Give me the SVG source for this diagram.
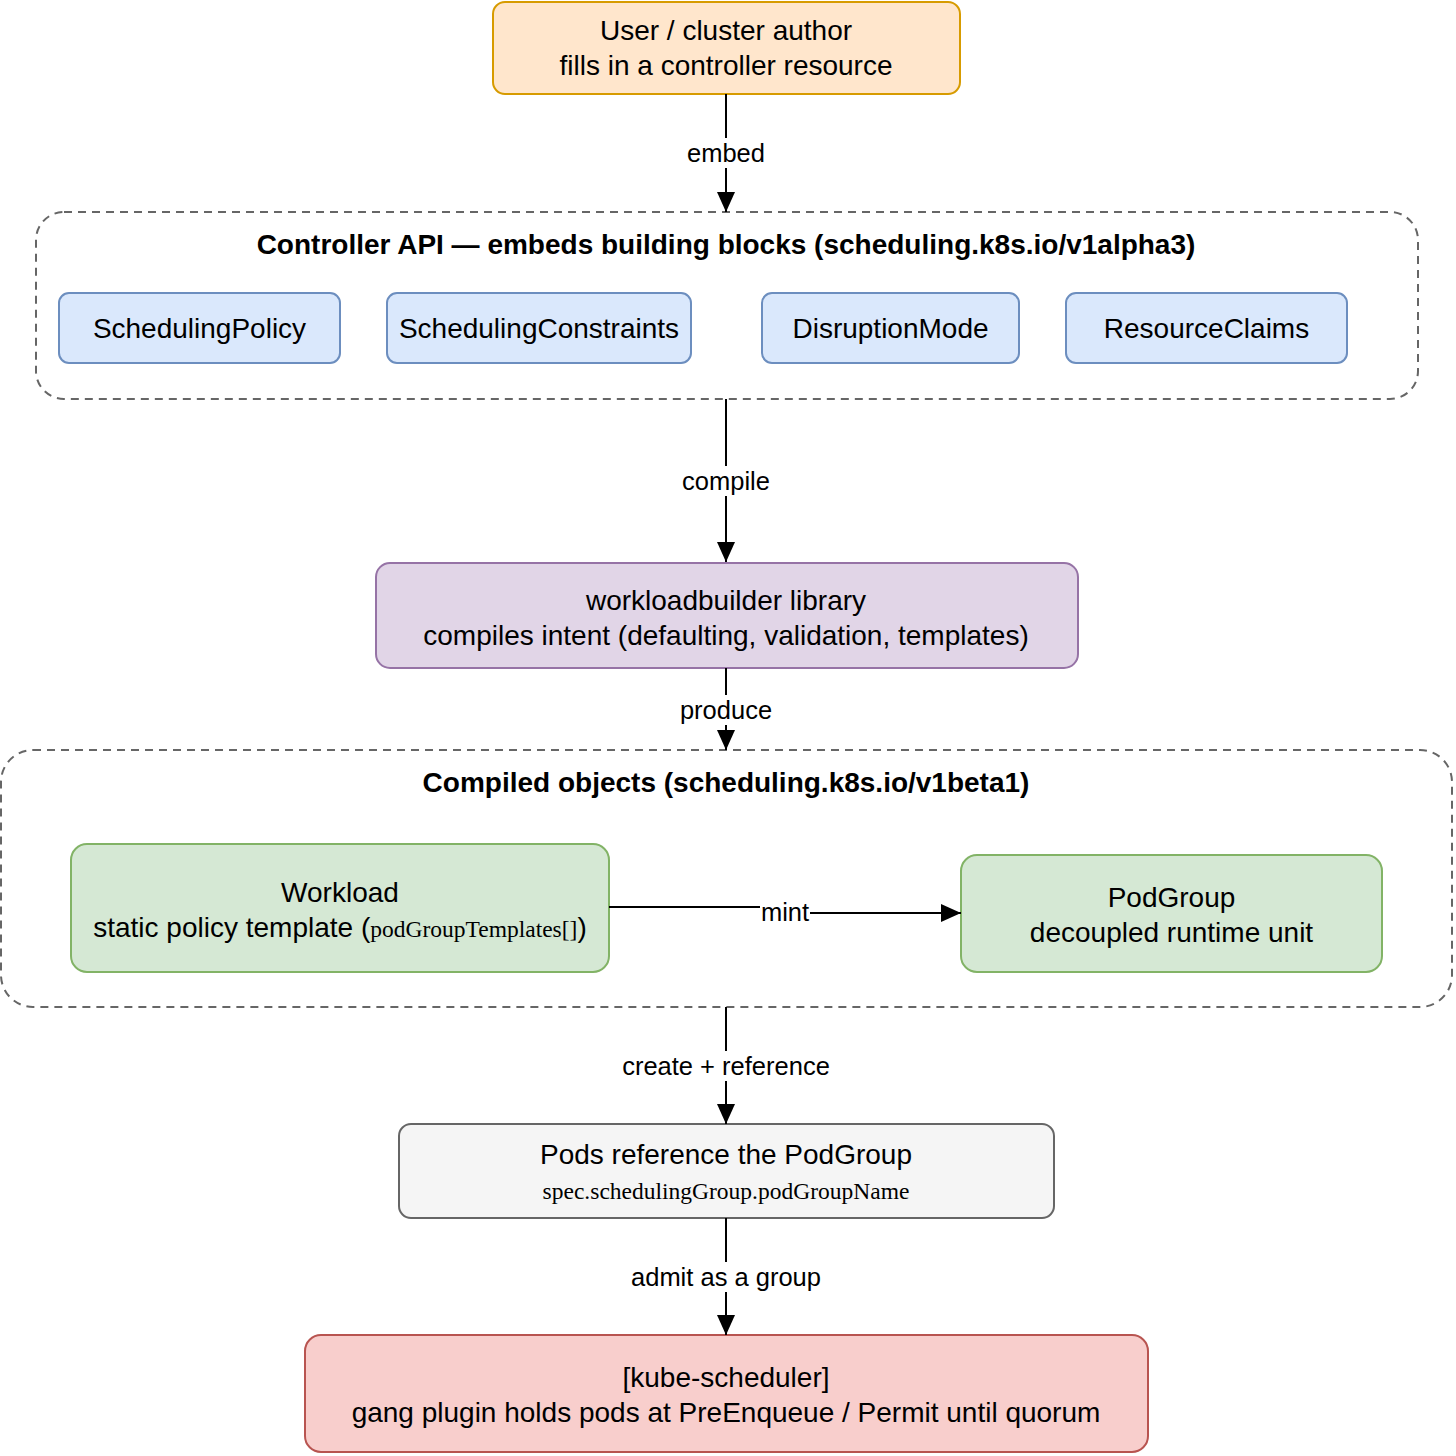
<svg xmlns="http://www.w3.org/2000/svg" width="1456" height="1456" viewBox="0 0 1456 1456">
<defs>
<marker id="arr" markerUnits="userSpaceOnUse" markerWidth="20" markerHeight="18" refX="20" refY="9" orient="auto">
<path d="M0,0 L20,9 L0,18 z" fill="#000"/>
</marker>
<style>
.t{font-family:"Liberation Sans",Arial,sans-serif;font-size:28px;fill:#000;text-anchor:middle}
.b{font-weight:bold}
.s{font-family:"Liberation Serif","Times New Roman",serif;font-size:23.5px}
.lbl{font-family:"Liberation Sans",Arial,sans-serif;font-size:25.5px;fill:#000;text-anchor:middle}
.e{fill:none;stroke:#000;stroke-width:2}
.bg{fill:#fff}
.grp{fill:#fff;stroke:#666;stroke-width:2;stroke-dasharray:8 6}
.blue{fill:#dae8fc;stroke:#6c8ebf;stroke-width:2}
.green{fill:#d5e8d4;stroke:#82b366;stroke-width:2}
</style>
</defs>
<rect width="1456" height="1456" fill="#fff"/>

<g id="user">
<rect x="493" y="2" width="467" height="92" rx="12" fill="#ffe6cc" stroke="#d79b00" stroke-width="2"/>
<text class="t" x="726" y="40">User / cluster author</text>
<text class="t" x="726" y="75">fills in a controller resource</text>
</g>

<g id="controller-api">
<rect class="grp" x="36" y="212" width="1382" height="187" rx="28"/>
<text class="t b" x="726" y="254">Controller API — embeds building blocks (scheduling.k8s.io/v1alpha3)</text>
</g>
<g id="scheduling-policy">
<rect class="blue" x="59" y="293" width="281" height="70" rx="10"/>
<text class="t" x="199.5" y="338">SchedulingPolicy</text>
</g>
<g id="scheduling-constraints">
<rect class="blue" x="387" y="293" width="304" height="70" rx="10"/>
<text class="t" x="539" y="338">SchedulingConstraints</text>
</g>
<g id="disruption-mode">
<rect class="blue" x="762" y="293" width="257" height="70" rx="10"/>
<text class="t" x="890.5" y="338">DisruptionMode</text>
</g>
<g id="resource-claims">
<rect class="blue" x="1066" y="293" width="281" height="70" rx="10"/>
<text class="t" x="1206.5" y="338">ResourceClaims</text>
</g>

<g id="workloadbuilder">
<rect x="376" y="563" width="702" height="105" rx="14" fill="#e1d5e7" stroke="#9673a6" stroke-width="2"/>
<text class="t" x="726" y="610">workloadbuilder library</text>
<text class="t" x="726" y="645">compiles intent (defaulting, validation, templates)</text>
</g>

<g id="compiled-objects">
<rect class="grp" x="1" y="750" width="1451" height="257" rx="32"/>
<text class="t b" x="726" y="792">Compiled objects (scheduling.k8s.io/v1beta1)</text>
</g>
<g id="workload">
<rect class="green" x="71" y="844" width="538" height="128" rx="16"/>
<text class="t" x="340" y="902">Workload</text>
<text class="t" x="340" y="937">static policy template (<tspan class="s">podGroupTemplates[]</tspan>)</text>
</g>
<g id="podgroup">
<rect class="green" x="961" y="855" width="421" height="117" rx="16"/>
<text class="t" x="1171.5" y="907">PodGroup</text>
<text class="t" x="1171.5" y="942">decoupled runtime unit</text>
</g>

<g id="pods">
<rect x="399" y="1124" width="655" height="94" rx="12" fill="#f5f5f5" stroke="#666" stroke-width="2"/>
<text class="t" x="726" y="1164">Pods reference the PodGroup</text>
<text class="t s" x="726" y="1199">spec.schedulingGroup.podGroupName</text>
</g>

<g id="kube-scheduler">
<rect x="305" y="1335" width="843" height="117" rx="16" fill="#f8cecc" stroke="#b85450" stroke-width="2"/>
<text class="t" x="726" y="1387">[kube-scheduler]</text>
<text class="t" x="726" y="1422">gang plugin holds pods at PreEnqueue / Permit until quorum</text>
</g>

<g id="connectors">
<path class="e" d="M726,94 V212" marker-end="url(#arr)"/>
<rect class="bg" x="684" y="138" width="84" height="30"/>
<text class="lbl" x="726" y="162">embed</text>

<path class="e" d="M726,399 V562" marker-end="url(#arr)"/>
<rect class="bg" x="680" y="466" width="92" height="30"/>
<text class="lbl" x="726" y="490">compile</text>

<path class="e" d="M726,668 V750" marker-end="url(#arr)"/>
<rect class="bg" x="676" y="695" width="100" height="30"/>
<text class="lbl" x="726" y="719">produce</text>

<path class="e" d="M609,907 H785 V913 H961" marker-end="url(#arr)"/>
<rect class="bg" x="760" y="897" width="50" height="26"/>
<text class="lbl" x="785" y="921">mint</text>

<path class="e" d="M726,1007 V1124" marker-end="url(#arr)"/>
<rect class="bg" x="618" y="1051" width="216" height="30"/>
<text class="lbl" x="726" y="1075">create + reference</text>

<path class="e" d="M726,1218 V1335" marker-end="url(#arr)"/>
<rect class="bg" x="628" y="1262" width="196" height="30"/>
<text class="lbl" x="726" y="1286">admit as a group</text>
</g>
</svg>
